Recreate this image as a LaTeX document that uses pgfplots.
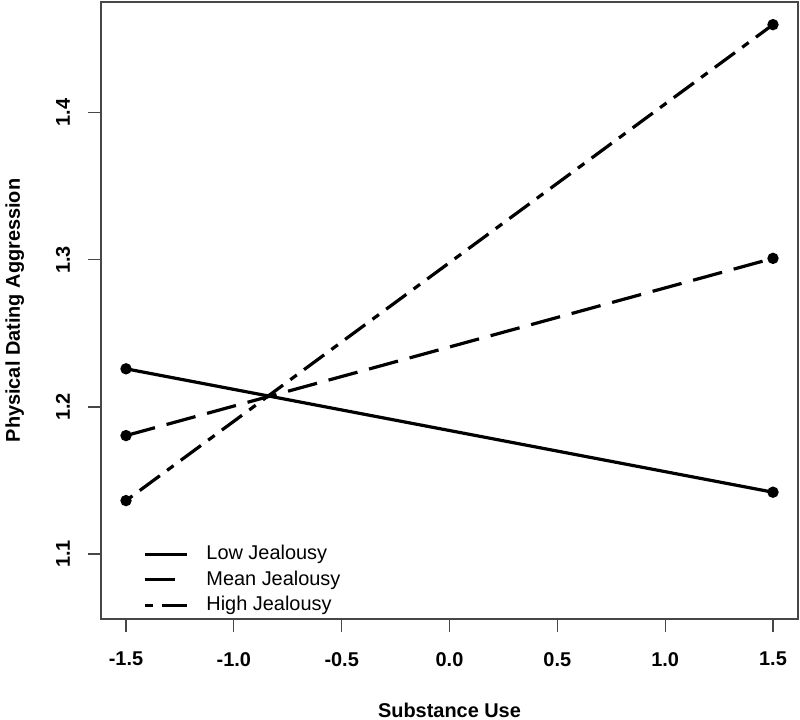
\documentclass[border=0pt]{standalone}
\usepackage{fontspec}
\setmainfont{Liberation Sans}
\usepackage{pgfplots}
\pgfplotsset{compat=1.18}
\begin{document}
\begin{tikzpicture}
\begin{axis}[
  scale only axis, width=697bp, height=617bp,
  xmin=-1.616, xmax=1.616, ymin=1.0558, ymax=1.4753,
  axis line style={black!72, line width=1.3bp},
  xtick={-1.5,-1,-0.5,0,0.5,1,1.5},
  xticklabels={{-1.5},{-1.0},{-0.5},{0.0},{0.5},{1.0},{1.5}},
  ytick={1.1,1.2,1.3,1.4},
  yticklabels={{1.1},{1.2},{1.3},{1.4}},
  tick align=outside, tick pos=left,
  major tick length=13bp,
  every tick/.style={black!72, line width=1.3bp},
  xticklabel style={font=\fontsize{20}{24}\selectfont\bfseries, anchor=north, inner sep=0pt, yshift=-20bp},
  yticklabel style={font=\fontsize{20}{24}\selectfont\bfseries, rotate=90, anchor=base, inner sep=0pt, yshift=18bp},
  xlabel={Substance Use},
  ylabel={Physical Dating Aggression},
  xlabel style={font=\fontsize{20}{24}\selectfont\bfseries, at={(axis description cs:0.5,0)}, anchor=base, yshift=-98bp},
  ylabel style={font=\fontsize{20}{24}\selectfont\bfseries, at={(axis description cs:0,0.5)}, anchor=base, yshift=81bp},
  legend style={draw=none, fill=none, at={(axis description cs:0.0603,0.1207)}, anchor=north west,
    font=\fontsize{20}{24}\selectfont, inner sep=0pt, row sep=6.5bp, column sep=18bp,
    nodes={inner sep=0pt, text height=15bp, text depth=4bp}},
  legend cell align=left,
  legend image code/.code={\draw[#1] (0bp,0bp) -- (42bp,0bp); \path[draw=none,fill=none] (0bp,-5bp) -- (0bp,5bp);},
]
\addplot[black, line width=3.2bp, mark=*, mark size=4bp, mark options={solid}] coordinates {(-1.5,1.2259) (1.5,1.1420)};
\addlegendentry{Low Jealousy}
\addplot[black, line width=3.2bp, dash pattern=on 30bp off 12bp, mark=*, mark size=4bp, mark options={solid}] coordinates {(-1.5,1.1805) (1.5,1.3010)};
\addlegendentry{Mean Jealousy}
\addplot[black, line width=3.2bp, dash pattern=on 8bp off 9bp on 25bp off 9bp, mark=*, mark size=4bp, mark options={solid}] coordinates {(-1.5,1.1363) (1.5,1.4599)};
\addlegendentry{High Jealousy}
\end{axis}
\pgfresetboundingbox
\path ([shift={(-101bp,-101bp)}]current axis.south west) rectangle ([shift={(2bp,2bp)}]current axis.north east);
\end{tikzpicture}
\end{document}
